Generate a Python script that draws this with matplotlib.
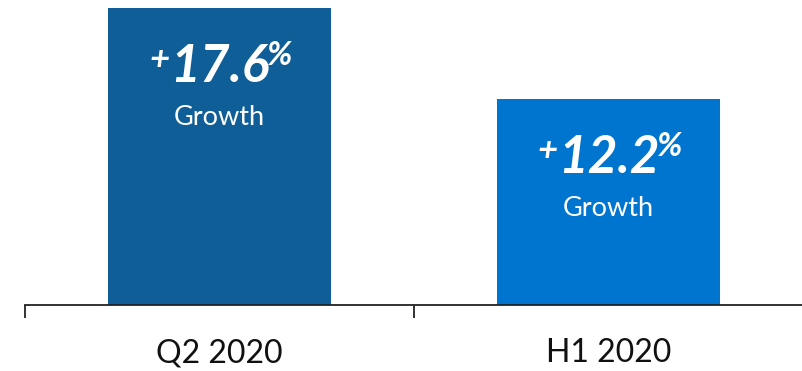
import matplotlib
matplotlib.use("Agg")
import matplotlib.pyplot as plt

# data
periods = ["Q2 2020", "H1 2020"]
growth = [17.6, 12.2]
colors = ["#105E98", "#0075CF"]

plt.rcParams['font.family'] = ['Lato', 'DejaVu Sans']

fig = plt.figure(figsize=(8.03, 3.71), dpi=100)
ax = fig.add_axes([25 / 803, 66 / 371, 778 / 803, 305 / 371])

x = list(range(len(periods)))
ax.bar(x, growth, width=0.573, color=colors, zorder=2)

ax.set_xlim(-0.5, len(periods) - 0.5)
ax.set_ylim(0, 17.6 * 305 / 297)

for s in ["top", "left", "right"]:
    ax.spines[s].set_visible(False)
ax.spines["bottom"].set_linewidth(1.3)
ax.spines["bottom"].set_color("#222222")
ax.set_yticks([])

ax.set_xticks(x)
ax.set_xticklabels(periods, fontsize=23, color="#111111")
ax.tick_params(axis="x", which="major", length=0, pad=24)
ax.set_xticks([i - 0.5 for i in range(len(periods) + 1)], minor=True)
ax.tick_params(axis="x", which="minor", length=9, width=1.3, color="#222222", direction="out")

for i, v in enumerate(growth):
    main = ax.annotate(f"{v:.1f}", xy=(i, v), xytext=(0, -74), textcoords="offset pixels",
                       ha="center", va="baseline", fontsize=37, fontweight="bold",
                       fontstyle="italic", color="white", zorder=3)
    ax.annotate("+", xy=(0, 1), xycoords=main, xytext=(0, 0), textcoords="offset pixels",
                ha="right", va="top", fontsize=25, fontweight="bold",
                fontstyle="italic", color="white", zorder=3)
    ax.annotate("%", xy=(1, 1), xycoords=main, xytext=(-2, 3), textcoords="offset pixels",
                ha="left", va="top", fontsize=24, fontweight="bold",
                fontstyle="italic", color="white", zorder=3)
    ax.annotate("Growth", xy=(i, v), xytext=(0, -117), textcoords="offset pixels",
                ha="center", va="baseline", fontsize=19.5, color="white", zorder=3)

fig.savefig("out.png", dpi=100)
